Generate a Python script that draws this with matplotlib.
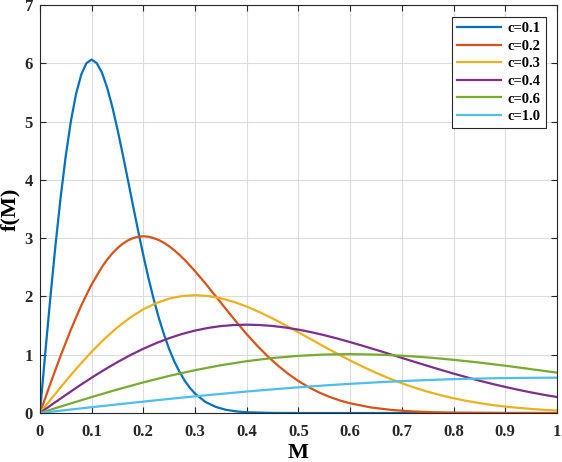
import matplotlib.pyplot as plt

# values
m_01 = [0.00, 0.01, 0.02, 0.03, 0.04, 0.05, 0.06, 0.07, 0.08, 0.09, 0.10,
        0.11, 0.12, 0.13, 0.14, 0.15, 0.16, 0.17, 0.18, 0.19, 0.20, 0.21,
        0.22, 0.23, 0.24, 0.25, 0.26, 0.27, 0.28, 0.29, 0.30, 0.32, 0.34,
        0.36, 0.38, 0.40, 0.45, 0.50, 0.60, 0.80, 1.00]
f_01 = [0.000, 0.995, 1.960, 2.868, 3.692, 4.412, 5.012, 5.478, 5.809, 6.003,
        6.065, 6.004, 5.842, 5.584, 5.256, 4.870, 4.449, 4.009, 3.564, 3.126,
        2.707, 2.315, 1.956, 1.633, 1.348, 1.098, 0.885, 0.706, 0.556, 0.433,
        0.333, 0.191, 0.105, 0.055, 0.028, 0.013, 0.002, 0.000, 0.000, 0.000,
        0.000]

m_02 = [0.00, 0.02, 0.04, 0.06, 0.08, 0.10, 0.12, 0.13, 0.14, 0.15, 0.16,
        0.17, 0.18, 0.19, 0.20, 0.21, 0.22, 0.23, 0.24, 0.25, 0.26, 0.27,
        0.28, 0.30, 0.32, 0.34, 0.36, 0.38, 0.40, 0.42, 0.44, 0.46, 0.48,
        0.50, 0.52, 0.54, 0.56, 0.58, 0.60, 0.64, 0.68, 0.72, 0.76, 0.80,
        0.90, 1.00]
f_02 = [0.000, 0.498, 0.980, 1.434, 1.846, 2.206, 2.506, 2.631, 2.739, 2.830,
        2.904, 2.961, 3.001, 3.025, 3.033, 3.025, 3.002, 2.968, 2.921, 2.862,
        2.792, 2.714, 2.628, 2.435, 2.225, 2.004, 1.782, 1.563, 1.353, 1.158,
        0.978, 0.817, 0.674, 0.549, 0.443, 0.353, 0.278, 0.216, 0.167, 0.096,
        0.053, 0.028, 0.014, 0.007, 0.001, 0.000]

m_025 = [0.000, 0.025, 0.050, 0.075, 0.100, 0.125, 0.150, 0.175, 0.200,
         0.225, 0.250, 0.275, 0.300, 0.325, 0.350, 0.375, 0.400, 0.425,
         0.450, 0.475, 0.500, 0.525, 0.550, 0.575, 0.600, 0.625, 0.650,
         0.675, 0.700, 0.725, 0.750, 0.775, 0.800, 0.825, 0.850, 0.875,
         0.900, 0.925, 0.950, 0.975, 1.000]
f_03 = [0.000, 0.277, 0.548, 0.807, 1.051, 1.273, 1.471, 1.640, 1.780, 1.887,
        1.963, 2.008, 2.022, 2.008, 1.969, 1.908, 1.827, 1.731, 1.623, 1.507,
        1.385, 1.262, 1.138, 1.018, 0.902, 0.793, 0.691, 0.597, 0.511, 0.434,
        0.366, 0.306, 0.254, 0.209, 0.171, 0.138, 0.111, 0.089, 0.070, 0.055,
        0.043]
f_04 = [0.000, 0.156, 0.310, 0.461, 0.606, 0.744, 0.874, 0.994, 1.103, 1.200,
        1.285, 1.357, 1.415, 1.460, 1.492, 1.510, 1.516, 1.510, 1.494, 1.467,
        1.431, 1.387, 1.336, 1.279, 1.217, 1.152, 1.085, 1.016, 0.946, 0.877,
        0.809, 0.742, 0.677, 0.615, 0.555, 0.500, 0.448, 0.399, 0.354, 0.312,
        0.275]

m_05 = [0.00, 0.05, 0.10, 0.15, 0.20, 0.25, 0.30, 0.35, 0.40, 0.45, 0.50,
        0.55, 0.60, 0.65, 0.70, 0.75, 0.80, 0.85, 0.90, 0.95, 1.00]
f_06 = [0.000, 0.138, 0.274, 0.404, 0.526, 0.637, 0.735, 0.820, 0.890, 0.944,
        0.981, 1.004, 1.011, 1.003, 0.984, 0.954, 0.913, 0.866, 0.812, 0.753,
        0.693]
f_10 = [0.000, 0.050, 0.100, 0.148, 0.196, 0.242, 0.286, 0.328, 0.369, 0.406,
        0.441, 0.473, 0.501, 0.526, 0.548, 0.566, 0.581, 0.592, 0.600, 0.604,
        0.607]

labels = ["c=0.1", "c=0.2", "c=0.3", "c=0.4", "c=0.6", "c=1.0"]
colors = ["#0072BD", "#D95319", "#EDB120", "#7E2F8E", "#77AC30", "#4DBEEE"]
series = [(m_01, f_01), (m_02, f_02), (m_025, f_03), (m_025, f_04),
          (m_05, f_06), (m_05, f_10)]

xticks = [0, 0.1, 0.2, 0.3, 0.4, 0.5, 0.6, 0.7, 0.8, 0.9, 1]
xticklabels = ["0", "0.1", "0.2", "0.3", "0.4", "0.5", "0.6", "0.7", "0.8", "0.9", "1"]
yticks = [0, 1, 2, 3, 4, 5, 6, 7]

plt.rcParams["font.family"] = ["Liberation Serif", "DejaVu Serif"]
plt.rcParams["font.weight"] = "bold"

fig = plt.figure(figsize=(5.62, 4.62), dpi=100)
ax = fig.add_axes([0.071, 0.106, 0.92, 0.883])

for (x, y), lab, col in zip(series, labels, colors):
    ax.plot(x, y, color=col, lw=1.6, label=lab)

ax.set_xlim(0, 1)
ax.set_ylim(0, 7)
ax.set_xticks(xticks)
ax.set_xticklabels(xticklabels)
ax.set_yticks(yticks)
ax.grid(True, color="#dcdcdc", lw=0.8)
ax.set_axisbelow(True)
ax.tick_params(direction="in", top=True, right=True, length=4,
               labelsize=12, colors="#262626", width=0.8)
ax.tick_params(axis="x", pad=8)
ax.tick_params(axis="y", pad=5)
for sp in ax.spines.values():
    sp.set_color("#262626")
    sp.set_linewidth(0.8)

ax.set_xlabel("M", fontsize=16, fontweight="bold", labelpad=2)
ax.set_ylabel("f(M)", fontsize=16, fontweight="bold", labelpad=3)

leg = ax.legend(loc="upper right", bbox_to_anchor=(0.979, 0.971),
                borderaxespad=0, fontsize=10.5, handlelength=3.0,
                handletextpad=0.5, labelspacing=0.3, borderpad=0.35,
                fancybox=False, framealpha=1, edgecolor="#262626")
leg.get_frame().set_linewidth(0.8)

fig.savefig("out.png", dpi=100)
